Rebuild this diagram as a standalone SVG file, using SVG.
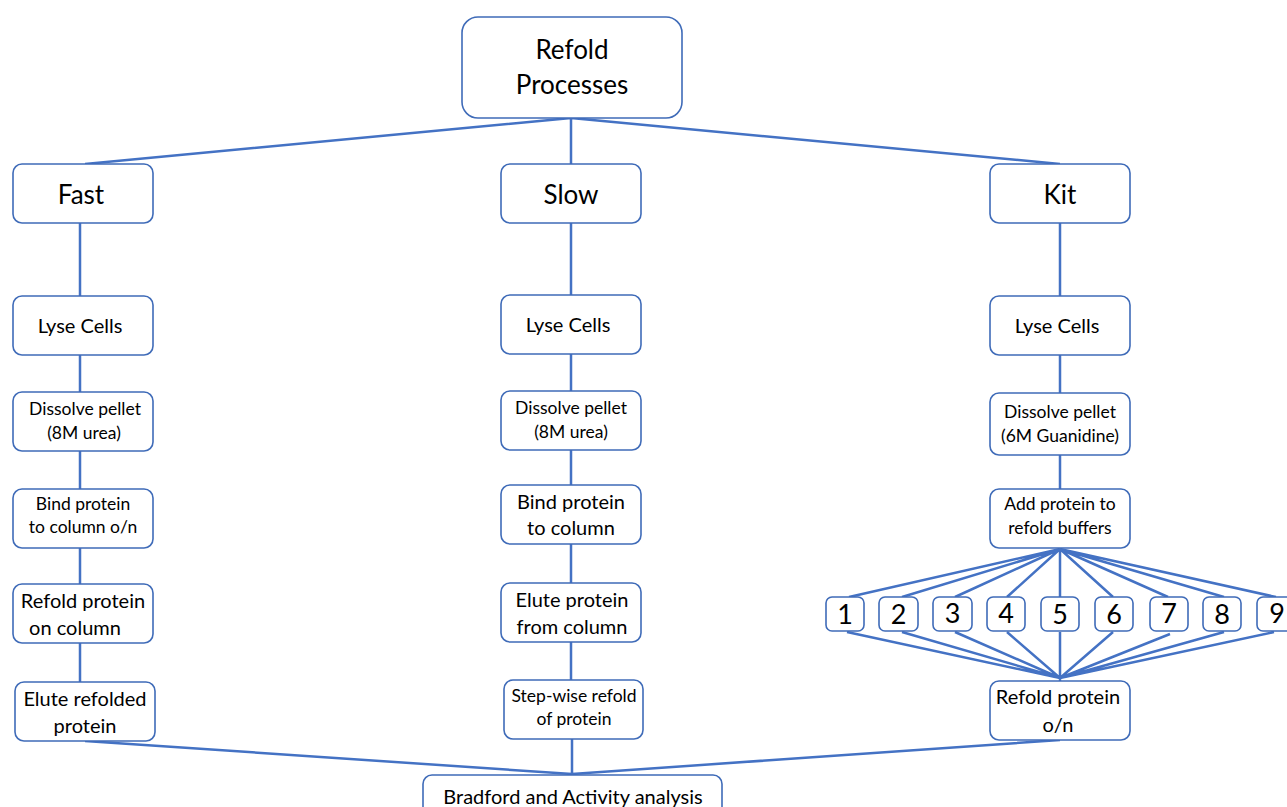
<svg xmlns="http://www.w3.org/2000/svg" width="1287" height="807" viewBox="0 0 1287 807">
<style>
.box{fill:#fff;stroke:#3F6BB8;stroke-width:1.6}
.c{stroke:#4472C4;stroke-width:2.5;fill:none}
text{font-family:Lato,"Open Sans",sans-serif;fill:#000;text-anchor:middle}
.t24{font-size:26px}
.t18{font-size:20px}
.t16{font-size:17.5px}
.n{font-size:27px}
</style>
<rect width="1287" height="807" fill="#fff"/>
<g id="connectors">
<path class="c" d="M571,118 L85,164 M571,118 L571,164 M571,118 L1060,164"/>
<path class="c" d="M80,223 V296 M80,355 V392 M80,451 V489 M80,548 V584 M80,643 V682"/>
<path class="c" d="M571,223 V295 M571,354 V391 M571,450 V485 M571,544 V583 M571,642 V680"/>
<path class="c" d="M1060,223 V296 M1060,355 V393 M1060,455 V489"/>
<path class="c" d="M1060,549 L849,597 M1060,549 L902,597 M1060,549 L955,597 M1060,549 L1007,597 M1060,549 L1060,597 M1060,549 L1113,597 M1060,549 L1168,597 M1060,549 L1224,597 M1060,549 L1276,597"/>
<path class="c" d="M847,632 L1060,678 M902,632 L1060,678 M955,632 L1060,678 M1007,632 L1060,678 M1060,632 L1060,678 M1113,632 L1060,678 M1170,634 L1060,678 M1224,632 L1060,678 M1274,632 L1060,678 M1060,678 V681"/>
<path class="c" d="M85,741 L572,774 M572,739 L572,774 M1060,740 L572,774"/>
</g>
<g id="root"><rect class="box" x="462" y="17" width="220" height="101" rx="16"/><text class="t24" x="572" y="59">Refold</text><text class="t24" x="572" y="94">Processes</text></g>
<g id="fast"><rect class="box" x="13" y="164" width="140" height="59" rx="9"/><text class="t24" x="81" y="204">Fast</text></g>
<g id="slow"><rect class="box" x="501" y="164" width="140" height="59" rx="9"/><text class="t24" x="571" y="204">Slow</text></g>
<g id="kit"><rect class="box" x="990" y="164" width="140" height="59" rx="9"/><text class="t24" x="1060" y="204">Kit</text></g>

<g id="fast-lyse"><rect class="box" x="13" y="296" width="140" height="59" rx="9"/><text class="t18" x="80" y="333">Lyse Cells</text></g>
<g id="slow-lyse"><rect class="box" x="501" y="295" width="140" height="59" rx="9"/><text class="t18" x="568" y="332">Lyse Cells</text></g>
<g id="kit-lyse"><rect class="box" x="990" y="296" width="140" height="59" rx="9"/><text class="t18" x="1057" y="333">Lyse Cells</text></g>

<g id="fast-dissolve"><rect class="box" x="13" y="392" width="140" height="59" rx="9"/><text class="t16" x="85" y="415">Dissolve pellet</text><text class="t16" x="84" y="439">(8M urea)</text></g>
<g id="slow-dissolve"><rect class="box" x="501" y="391" width="140" height="59" rx="9"/><text class="t16" x="571" y="414">Dissolve pellet</text><text class="t16" x="571" y="438">(8M urea)</text></g>
<g id="kit-dissolve"><rect class="box" x="990" y="393" width="140" height="62" rx="9"/><text class="t16" x="1060" y="418">Dissolve pellet</text><text class="t16" x="1060" y="442">(6M Guanidine)</text></g>

<g id="fast-bind"><rect class="box" x="13" y="489" width="140" height="59" rx="9"/><text class="t16" x="83" y="510">Bind protein</text><text class="t16" x="83" y="533">to column o/n</text></g>
<g id="slow-bind"><rect class="box" x="501" y="485" width="140" height="59" rx="9"/><text class="t18" x="571" y="509">Bind protein</text><text class="t18" x="571" y="535">to column</text></g>
<g id="kit-add"><rect class="box" x="990" y="489" width="140" height="59" rx="9"/><text class="t16" x="1060" y="510">Add protein to</text><text class="t16" x="1060" y="534">refold buffers</text></g>

<g id="fast-refold"><rect class="box" x="13" y="584" width="140" height="59" rx="9"/><text class="t18" x="83" y="608">Refold protein</text><text class="t18" x="75" y="635">on column</text></g>
<g id="slow-elute"><rect class="box" x="501" y="583" width="140" height="59" rx="9"/><text class="t18" x="572" y="607">Elute protein</text><text class="t18" x="572" y="634">from column</text></g>

<g id="b1"><rect class="box" x="826" y="597" width="38" height="34" rx="6"/><text class="n" x="845" y="624">1</text></g>
<g id="b2"><rect class="box" x="879" y="597" width="39" height="34" rx="6"/><text class="n" x="898.5" y="624">2</text></g>
<g id="b3"><rect class="box" x="933" y="597" width="39" height="34" rx="6"/><text class="n" x="952.5" y="623">3</text></g>
<g id="b4"><rect class="box" x="987" y="597" width="38" height="34" rx="6"/><text class="n" x="1006" y="623">4</text></g>
<g id="b5"><rect class="box" x="1041" y="597" width="38" height="34" rx="6"/><text class="n" x="1060" y="624">5</text></g>
<g id="b6"><rect class="box" x="1095" y="597" width="38" height="34" rx="6"/><text class="n" x="1114" y="624">6</text></g>
<g id="b7"><rect class="box" x="1150" y="597" width="38" height="34" rx="6"/><text class="n" x="1169" y="623">7</text></g>
<g id="b8"><rect class="box" x="1203" y="597" width="38" height="34" rx="6"/><text class="n" x="1222" y="624">8</text></g>
<g id="b9"><rect class="box" x="1257" y="597" width="38" height="34" rx="6"/><text class="n" x="1277" y="623">9</text></g>

<g id="fast-elute"><rect class="box" x="15" y="682" width="140" height="59" rx="9"/><text class="t18" x="85" y="706">Elute refolded</text><text class="t18" x="85" y="733">protein</text></g>
<g id="slow-stepwise"><rect class="box" x="504" y="680" width="139" height="59" rx="9"/><text class="t16" x="574" y="702">Step-wise refold</text><text class="t16" x="574" y="725">of protein</text></g>
<g id="kit-refold"><rect class="box" x="990" y="681" width="140" height="59" rx="9"/><text class="t18" x="1058" y="704">Refold protein</text><text class="t18" x="1058" y="732">o/n</text></g>

<g id="bradford"><rect class="box" x="423" y="775" width="299" height="50" rx="9"/><text class="t18" x="573" y="804">Bradford and Activity analysis</text></g>
</svg>
